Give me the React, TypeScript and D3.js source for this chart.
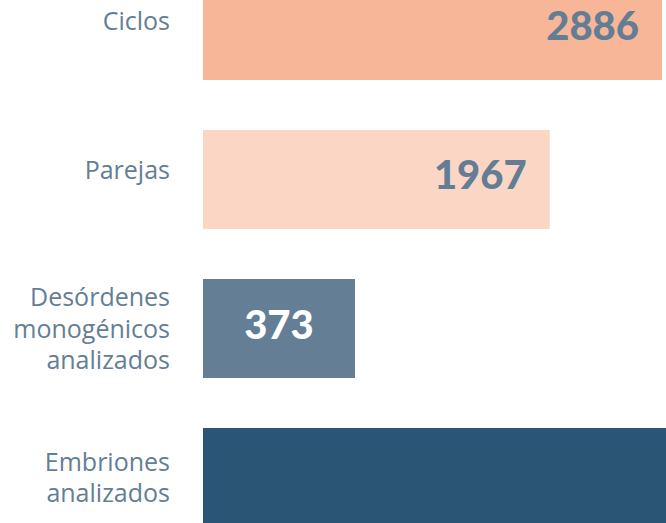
import React from "react";
import * as d3 from "d3";

const categories: string[][] = [
  ["Ciclos"],
  ["Parejas"],
  ["Desórdenes", "monogénicos", "analizados"],
  ["Embriones", "analizados"],
];
const values: number[] = [2886, 1967, 373, 5500];
const barColors: string[] = ["#f8b698", "#fcd6c5", "#637e95", "#2b5574"];
const valueColors: string[] = ["#627d94", "#627d94", "#ffffff", "#ffffff"];

const W = 666;
const H = 523;

export default function App() {
  const keys = categories.map((c) => c.join(" "));
  const y = d3
    .scaleBand<string>()
    .domain(keys)
    .range([-19, 527])
    .paddingInner(0.3356)
    .paddingOuter(0);
  const x = d3.scaleLinear().domain([-871, 2886]).range([203, 662]);
  const x0 = x.range()[0];
  const labelFont = "'Open Sans', sans-serif";
  const valueFont = "Lato, sans-serif";
  const lineH = 31.5;

  return (
    <svg
      width={W}
      height={H}
      style={{ position: "absolute", left: 0, top: 0, overflow: "hidden" }}
    >
      {keys.map((k, i) => {
        const top = y(k) as number;
        const bh = y.bandwidth();
        const cy = top + bh / 2;
        const end = x(values[i]);
        const w = end - x0;
        const lines = categories[i];
        const single = lines.length === 1;
        const blockTop = cy - ((lines.length - 1) * lineH) / 2 + (single ? -9 : 0);
        const centered = w < 200;
        const lx = centered ? x0 + w / 2 : end - 23;
        // the value label of a bar running past the view lies outside it
        const visible = lx <= W;
        return (
          <g key={k}>
            <rect x={x0} y={top} width={w} height={bh} fill={barColors[i]} />
            <text
              textAnchor="end"
              fontFamily={labelFont}
              fontSize={25}
              fontWeight={500}
              fill="#637e95"
            >
              {lines.map((l, j) => (
                <tspan key={j} x={170} y={blockTop + j * lineH + 9}>
                  {l}
                </tspan>
              ))}
            </text>
            {visible && (
              <text
                x={lx}
                y={cy + 10}
                textAnchor={centered ? "middle" : "end"}
                fontFamily={valueFont}
                fontSize={40}
                fontWeight={900}
                fill={valueColors[i]}
              >
                {values[i]}
              </text>
            )}
          </g>
        );
      })}
    </svg>
  );
}
